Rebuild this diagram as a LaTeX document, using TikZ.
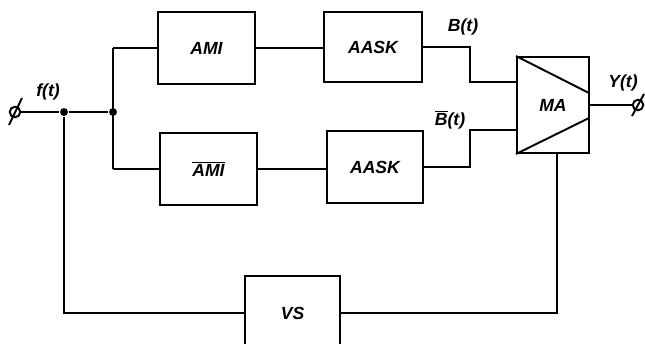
\documentclass[tikz,border=0pt]{standalone}
\usepackage{fontspec}
\setmainfont{Liberation Sans}
\begin{document}
\begin{tikzpicture}[x=0.02cm,y=-0.02cm,line width=1.1pt,
  blk/.style={draw,rectangle,inner sep=0pt,font=\fontsize{10}{12}\selectfont\bfseries\itshape},
  lbl/.style={inner sep=0pt,font=\fontsize{10}{12}\selectfont\bfseries\itshape},
  dot/.style={circle,fill,inner sep=0pt,minimum size=4.5pt},
  term/.style={circle,draw,inner sep=0pt,minimum size=6pt}]
\useasboundingbox (0,0) rectangle (645,343);
\clip (0,0) rectangle (645,343);
% blocks
\node[blk,minimum width=1.94cm,minimum height=1.44cm] (am1) at (206.5,48) {AMI};
\node[blk,minimum width=1.96cm,minimum height=1.40cm] (aask1) at (373,47) {AASK};
\node[blk,minimum width=1.94cm,minimum height=1.44cm] (am2) at (208.5,169) {$\overline{\hbox{\bfseries\itshape AMI}}$};
\node[blk,minimum width=1.92cm,minimum height=1.44cm] (aask2) at (375,167) {AASK};
\node[blk,minimum width=1.44cm,minimum height=1.92cm] (ma) at (553,105) {MA};
\node[blk,minimum width=1.90cm,minimum height=1.48cm] (vs) at (292.5,313) {VS};
% MA diagonals
\coordinate (dr1) at (589,93);
\coordinate (dr2) at (589,118);
\draw (ma.north west) -- (dr1);
\draw (ma.south west) -- (dr2);
% terminals
\node[term] (tin) at (15,112) {};
\node[term] (tout) at (638,105) {};
\draw (9,125) -- (22,98);
\draw (632,116) -- (644,94);
% junctions
\node[dot] (j1) at (64,112) {};
\node[dot] (j2) at (113,112) {};
\coordinate (jt) at (113,48);
\coordinate (jb) at (113,169);
% input line
\draw (tin) -- (j1) -- (j2);
\draw (jt) -- (jb);
\draw (jt) -- (am1.west);
\draw (jb) -- (am2.west);
\draw (am1.east) -- (aask1.west |- am1.east);
\draw (am2.east) -- (aask2.west |- am2.east);
% to MA
\coordinate (k1) at (470,65);
\coordinate (mt) at (517,82);
\coordinate (k2) at (470,150);
\coordinate (mb) at (517,130);
\draw (aask1.east) -| (k1) |- (mt);
\draw (aask2.east) -| (k2) |- (mb);
% output
\draw (ma.east) -- (tout);
% feedback
\coordinate (fl) at (64,313);
\coordinate (fr) at (557,313);
\draw (j1) -- (fl) -- (vs.west);
\draw (vs.east) -- (fr) -- (fr |- ma.south);
% labels
\node[lbl] (lf) at (48,92) {f(t)};
\node[lbl] (lb) at (463,27) {B(t)};
\node[lbl] (lbb) at (450,120) {$\overline{\hbox{\bfseries\itshape B}}$(t)};
\node[lbl] (ly) at (623,83) {Y(t)};
\end{tikzpicture}
\end{document}
